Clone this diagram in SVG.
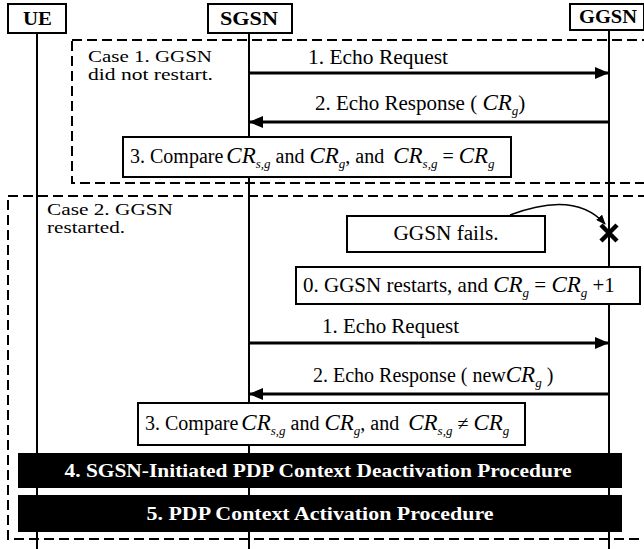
<svg xmlns="http://www.w3.org/2000/svg" width="644" height="549" viewBox="0 0 644 549">
<defs>
<style>
.t{font-family:"Liberation Serif","Times New Roman",serif;font-size:20px;fill:#000}
.c{font-family:"Liberation Serif","Times New Roman",serif;font-size:17px;fill:#000}
.h{font-family:"Liberation Serif","Times New Roman",serif;font-size:19px;font-weight:bold;fill:#000}
.b{font-family:"Liberation Serif","Times New Roman",serif;font-size:18.5px;font-weight:bold;fill:#fff}
.m{font-style:italic;font-size:23px}
.s{font-style:italic;font-size:13px}
.box{fill:#fff;stroke:#000;stroke-width:2}
.life{stroke:#000;stroke-width:2;fill:none}
.dash{fill:none;stroke:#000;stroke-width:2;stroke-dasharray:10 5}
.msg{stroke:#000;stroke-width:3;fill:none}
.bar{fill:#000}
</style>
<marker id="ah" viewBox="0 0 14 12" refX="13" refY="6" markerWidth="14" markerHeight="12" markerUnits="userSpaceOnUse" orient="auto">
<path d="M0,0 L14,6 L0,12 z" fill="#000"/>
</marker>
<marker id="ah2" viewBox="0 0 10 8" refX="9" refY="4" markerWidth="10" markerHeight="8" markerUnits="userSpaceOnUse" orient="auto">
<path d="M0,0 L10,4 L0,8 z" fill="#000"/>
</marker>
</defs>
<rect width="644" height="549" fill="#fff"/>

<g id="frames">
<rect class="dash" x="72" y="40" width="590" height="143"/>
<rect class="dash" x="8" y="196" width="654" height="343"/>
</g>

<g id="lifelines">
<line class="life" x1="37" y1="33" x2="37" y2="549"/>
<line class="life" x1="249" y1="33" x2="249" y2="549"/>
<line class="life" x1="609" y1="30" x2="609" y2="549"/>
</g>

<g id="UE">
<rect class="box" x="8" y="4" width="58" height="29"/>
<text class="h" x="37.5" y="25" text-anchor="middle" textLength="29" lengthAdjust="spacingAndGlyphs">UE</text>
</g>
<g id="SGSN">
<rect class="box" x="208" y="4" width="84" height="29"/>
<text class="h" x="249" y="25" text-anchor="middle" textLength="58" lengthAdjust="spacingAndGlyphs">SGSN</text>
</g>
<g id="GGSN">
<rect class="box" x="570" y="4" width="74" height="26"/>
<text class="h" x="608" y="23" text-anchor="middle" textLength="58" lengthAdjust="spacingAndGlyphs">GGSN</text>
</g>

<g id="case1-label">
<text class="c" x="88" y="62" textLength="124" lengthAdjust="spacingAndGlyphs">Case 1. GGSN</text>
<text class="c" x="88" y="80" textLength="125" lengthAdjust="spacingAndGlyphs">did not restart.</text>
</g>

<g id="case2-label">
<text class="c" x="47" y="215" textLength="126" lengthAdjust="spacingAndGlyphs">Case 2. GGSN</text>
<text class="c" x="47" y="233" textLength="78" lengthAdjust="spacingAndGlyphs">restarted.</text>
</g>

<g id="connectors">
<line class="msg" x1="249" y1="73" x2="608" y2="73" marker-end="url(#ah)"/>
<line class="msg" x1="609" y1="122" x2="250" y2="122" marker-end="url(#ah)"/>
<line class="msg" x1="249" y1="343" x2="608" y2="343" marker-end="url(#ah)"/>
<line class="msg" x1="609" y1="394" x2="250" y2="394" marker-end="url(#ah)"/>
<path d="M510,215 Q575,190 605,224" fill="none" stroke="#000" stroke-width="1.5" marker-end="url(#ah2)"/>
</g>

<g id="msg-labels">
<text class="t" x="308" y="64" textLength="140" lengthAdjust="spacingAndGlyphs">1. Echo Request</text>
<text class="t" x="315" y="110" style="font-size:21px">2. Echo Response ( <tspan class="m">CR</tspan><tspan class="s" dy="5">g</tspan><tspan dy="-5">)</tspan></text>
<text class="t" x="322" y="333" textLength="137" lengthAdjust="spacingAndGlyphs">1. Echo Request</text>
<text class="t" x="313" y="382">2. Echo Response ( new<tspan class="m">CR</tspan><tspan class="s" dy="5">g</tspan><tspan dy="-5"> )</tspan></text>
</g>

<g id="compare1">
<rect class="box" x="123" y="137" width="388" height="40"/>
<text class="t" x="130" y="163">3. Compare<tspan class="m" dx="3">CR</tspan><tspan class="s" dy="5">s,g</tspan><tspan dy="-5"> and </tspan><tspan class="m">CR</tspan><tspan class="s" dy="5">g</tspan><tspan dy="-5">, and </tspan><tspan class="m" dx="4">CR</tspan><tspan class="s" dy="5">s,g</tspan><tspan dy="-5"> = </tspan><tspan class="m">CR</tspan><tspan class="s" dy="5">g</tspan></text>
</g>

<g id="ggsn-fails">
<rect class="box" x="347" y="216" width="198" height="36"/>
<text class="t" x="446" y="240" text-anchor="middle" textLength="105" lengthAdjust="spacingAndGlyphs">GGSN fails.</text>
<path d="M601,225 L617,241 M617,225 L601,241" stroke="#000" stroke-width="4.5" fill="none"/>
</g>

<g id="ggsn-restarts">
<rect class="box" x="296" y="267" width="344" height="37"/>
<text class="t" x="303" y="292" style="font-size:21px">0. GGSN restarts, and <tspan class="m">CR</tspan><tspan class="s" dy="5">g</tspan><tspan dy="-5"> = </tspan><tspan class="m">CR</tspan><tspan class="s" dy="5">g</tspan><tspan dy="-5"> +1</tspan></text>
</g>

<g id="compare2">
<rect class="box" x="138" y="403" width="387" height="42"/>
<text class="t" x="145" y="430">3. Compare<tspan class="m" dx="3">CR</tspan><tspan class="s" dy="5">s,g</tspan><tspan dy="-5"> and </tspan><tspan class="m">CR</tspan><tspan class="s" dy="5">g</tspan><tspan dy="-5">, and </tspan><tspan class="m" dx="4">CR</tspan><tspan class="s" dy="5">s,g</tspan><tspan dy="-5"> ≠ </tspan><tspan class="m">CR</tspan><tspan class="s" dy="5">g</tspan></text>
</g>

<g id="deactivation">
<rect class="bar" x="18" y="453" width="604" height="35"/>
<text class="b" x="318" y="477" text-anchor="middle" textLength="507" lengthAdjust="spacingAndGlyphs">4. SGSN-Initiated PDP Context Deactivation Procedure</text>
</g>

<g id="activation">
<rect class="bar" x="18" y="495" width="604" height="37"/>
<text class="b" x="320" y="520" text-anchor="middle" textLength="347" lengthAdjust="spacingAndGlyphs">5.  PDP Context Activation Procedure</text>
</g>
</svg>
